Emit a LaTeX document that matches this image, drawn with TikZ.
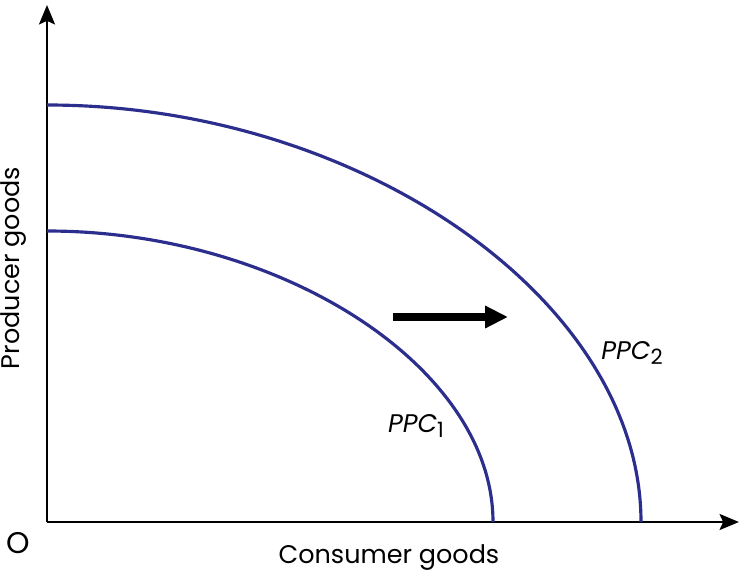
\documentclass[tikz,border=0pt]{standalone}
\usepackage{fontspec}
\setmainfont{Poppins}
\usetikzlibrary{arrows.meta}

\definecolor{ppcblue}{RGB}{43,46,140}
\newcommand{\ppcsub}[1]{\raisebox{-0.35ex}{\fontsize{12}{12}\selectfont #1}}
\tikzset{
	axis/.style = {line width=1.7pt, -{Stealth[length=11pt,width=9pt,inset=2pt]}},
	ppc/.style = {line width=1.8pt, draw=ppcblue},
	shift arrow/.style = {line width=4.5pt, -{Triangle[length=13pt,width=12pt]}},
	lbl/.style = {font=\fontsize{14.5}{16}\selectfont, inner sep=0pt}
}

\begin{document}
\begin{tikzpicture}[x=0.02cm, y=-0.02cm]
		\useasboundingbox (0,0) rectangle (745,585);

		\coordinate (origin) at (47,522);
		\coordinate (ytop) at (47,5);
		\coordinate (xend) at (739,522);

		\draw [axis] (origin) -- (ytop);
		\draw [axis] (origin) -- (xend);

		\coordinate (p1top) at (47,231);
		\coordinate (p1end) at (493,522);
		\coordinate (p2top) at (47,105);
		\coordinate (p2end) at (641,522);

		\draw [ppc] (p1top) .. controls (283,231) and (493,368) .. (p1end);
		\draw [ppc] (p2top) .. controls (362,105) and (641,301) .. (p2end);

		\coordinate (arrstart) at (393,317);
		\coordinate (arrend) at (508,317);
		\draw [shift arrow] (arrstart) -- (arrend);

		\draw (416,426) node [lbl] (ppc1) {\textit{PPC}\ppcsub{1}};
		\draw (632,353) node [lbl] (ppc2) {\textit{PPC}\ppcsub{2}};

		\draw (18,543) node [lbl, font=\fontsize{17}{18}\selectfont] (O) {O};
		\draw (389,558) node [lbl] (xlab) {Consumer goods};
		\draw (14,268) node [lbl, rotate=90] (ylab) {Producer goods};
	\end{tikzpicture}
\end{document}
